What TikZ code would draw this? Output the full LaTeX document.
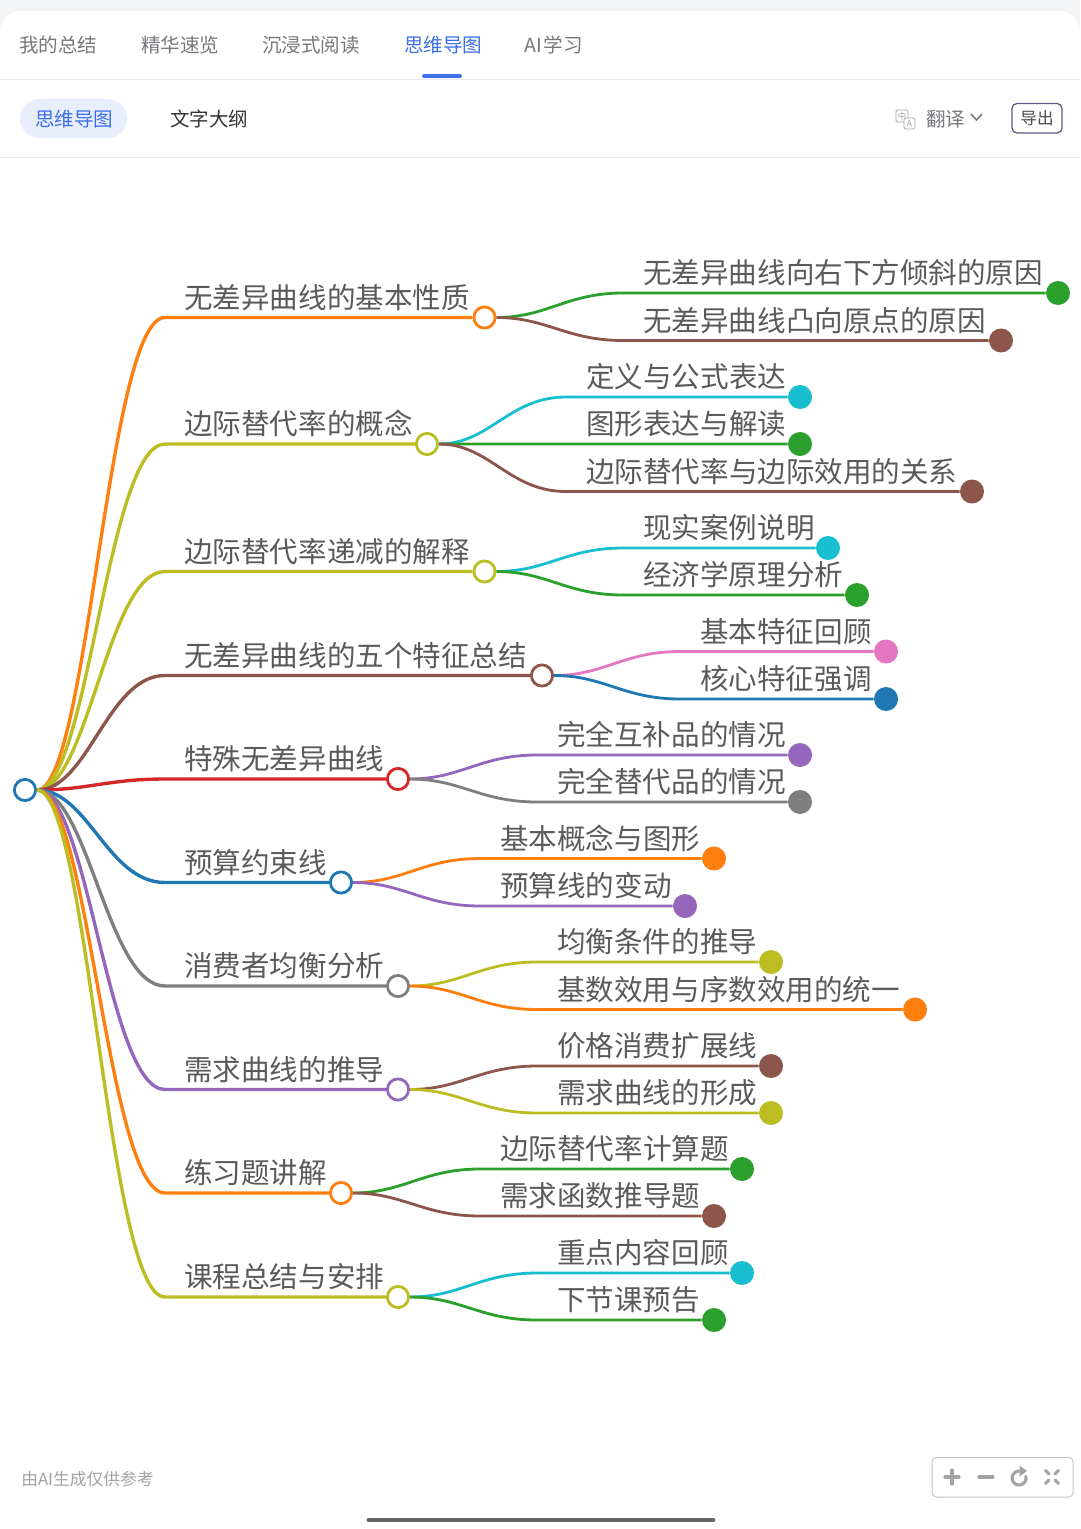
\documentclass[tikz,border=0pt]{standalone}
\usepackage{xcolor}
\usepackage{fontspec}
\setmainfont{Noto Sans CJK SC}
\usetikzlibrary{calc}

\definecolor{mmorange}{HTML}{FF7F0E}
\definecolor{mmolive}{HTML}{BCBD22}
\definecolor{mmbrown}{HTML}{8C564B}
\definecolor{mmred}{HTML}{D62728}
\definecolor{mmblue}{HTML}{1F77B4}
\definecolor{mmgray}{HTML}{7F7F7F}
\definecolor{mmpurple}{HTML}{9467BD}
\definecolor{mmgreen}{HTML}{2CA02C}
\definecolor{mmcyan}{HTML}{17BECF}
\definecolor{mmpink}{HTML}{E377C2}
\definecolor{uiblue}{HTML}{3D6FE8}
\definecolor{uipill}{HTML}{E8EEFC}
\definecolor{uigray}{HTML}{76787C}
\definecolor{uiline}{HTML}{E9E9EB}
\definecolor{uitop}{HTML}{F3F4F6}
\definecolor{uibox}{HTML}{5F5A80}
\definecolor{uitool}{HTML}{A3A3A6}
\definecolor{mmtext}{HTML}{5A5A5A}

\tikzset{
	hub/.style={circle,fill=white,line width=2pt,minimum size=0.53cm,inner sep=0},
	dotend/.style={circle,minimum size=0.6cm,inner sep=0},
	wirea/.style={line width=2.4pt},
	wireb/.style={line width=2pt},
	mmlabel/.style={anchor=base west,inner sep=0,yshift=0.5pt,text=mmtext,font=\fontsize{20.3}{24}\selectfont},
	tab/.style={anchor=west,inner sep=0,text=uigray,font=\fontsize{13.9}{16}\selectfont},
	toolstroke/.style={draw=uitool,line width=2.2pt,line cap=round}
}

% from, through a flat end, on to a node
\newcommand{\mmlink}[5]{\draw[#1,#2] (#3) .. controls ($(#3)!.4!(#3-|#4)$) and ($(#4)!.45!(#4-|#3)$) .. (#4) -- (#5);}

\begin{document}
\begin{tikzpicture}[x=0.025cm,y=-0.025cm]
	\useasboundingbox (0,0) rectangle (1080,1529);
	% page and top bars
	\fill[uitop] (0,0) rectangle (1080,40);
	\fill[white] (0,1529) -- (0,31) arc[start angle=180,end angle=270,radius=20] -- (1060,11) arc[start angle=270,end angle=360,radius=20] -- (1080,1529) -- cycle;
	\draw[uiline,line width=1pt] (0,79.5)--(1080,79.5);
	\draw[uiline,line width=1pt] (0,157.5)--(1080,157.5);
		\node[tab] (tabsum) at (19,45) {我的总结};
		\node[tab] (tabfast) at (141,45) {精华速览};
		\node[tab] (tabread) at (262,45) {沉浸式阅读};
		\node[tab,text=uiblue] (tabmap) at (404,45) {思维导图};
		\node[tab] (tabai) at (524,45) {AI\kern1.5pt 学习};
	\draw[uiblue,line width=2.6pt,line cap=round] (424,76)--(460,76);
	\fill[uipill,rounded corners=0.48cm] (20,99) rectangle (127,138);
		\node[tab,text=uiblue] (submap) at (35,119) {思维导图};
		\node[tab,text=black!80] (subtext) at (170,119) {文字大纲};
	% translate icon
	\draw[uitool,line width=0.6pt,rounded corners=1pt] (896,110) rectangle (908,122);
	\draw[uitool,line width=0.6pt,rounded corners=1pt,fill=white] (904,118) rectangle (915,129);
		\node[inner sep=0,text=uitool,font=\fontsize{6}{6}\selectfont] (icona) at (902,116) {中};
		\node[inner sep=0,text=uitool,font=\fontsize{6}{6}\selectfont] (iconb) at (909.5,123.5) {A};
		\node[tab] (trans) at (926,119) {翻译};
	\draw[uigray,line width=1.1pt] (971,114)--(976.5,120)--(982,114);
	\draw[uibox,line width=0.9pt,rounded corners=3.5pt] (1012,103.5) rectangle (1062,133);
		\node[inner sep=0,text=black!70,font=\fontsize{11.8}{14}\selectfont] (export) at (1037,118.5) {导出};

	% map
	\node[hub,draw=mmblue] (root) at (25,790) {};

	\node[hub,draw=mmorange] (b1) at (484.5,317.5) {};
	\coordinate (b1s) at (165,317.5);
		\node[mmlabel] (b1t) at (184,309) {无差异曲线的基本性质};
	\mmlink{wirea}{mmorange}{root.east}{b1s}{b1}
	\node[dotend,fill=mmgreen] (l1a) at (1058,293) {};
	\coordinate (l1as) at (623,293);
		\node[mmlabel] (l1at) at (643,284.5) {无差异曲线向右下方倾斜的原因};
	\mmlink{wireb}{mmgreen}{b1.east}{l1as}{l1a}
	\node[dotend,fill=mmbrown] (l1b) at (1001,340.5) {};
	\coordinate (l1bs) at (623,340.5);
		\node[mmlabel] (l1bt) at (643,332) {无差异曲线凸向原点的原因};
	\mmlink{wireb}{mmbrown}{b1.east}{l1bs}{l1b}

	\node[hub,draw=mmolive] (b2) at (427,444) {};
	\coordinate (b2s) at (165,444);
		\node[mmlabel] (b2t) at (184,435.5) {边际替代率的概念};
	\mmlink{wirea}{mmolive}{root.east}{b2s}{b2}
	\node[dotend,fill=mmcyan] (l2a) at (800,397) {};
	\coordinate (l2as) at (566,397);
		\node[mmlabel] (l2at) at (586,388.5) {定义与公式表达};
	\mmlink{wireb}{mmcyan}{b2.east}{l2as}{l2a}
	\node[dotend,fill=mmgreen] (l2b) at (800,444) {};
	\coordinate (l2bs) at (566,444);
		\node[mmlabel] (l2bt) at (586,435.5) {图形表达与解读};
	\mmlink{wireb}{mmgreen}{b2.east}{l2bs}{l2b}
	\node[dotend,fill=mmbrown] (l2c) at (972,491.5) {};
	\coordinate (l2cs) at (566,491.5);
		\node[mmlabel] (l2ct) at (586,483) {边际替代率与边际效用的关系};
	\mmlink{wireb}{mmbrown}{b2.east}{l2cs}{l2c}

	\node[hub,draw=mmolive] (b3) at (484.5,571.5) {};
	\coordinate (b3s) at (165,571.5);
		\node[mmlabel] (b3t) at (184,563) {边际替代率递减的解释};
	\mmlink{wirea}{mmolive}{root.east}{b3s}{b3}
	\node[dotend,fill=mmcyan] (l3a) at (828,548) {};
	\coordinate (l3as) at (623,548);
		\node[mmlabel] (l3at) at (643,539.5) {现实案例说明};
	\mmlink{wireb}{mmcyan}{b3.east}{l3as}{l3a}
	\node[dotend,fill=mmgreen] (l3b) at (857,595) {};
	\coordinate (l3bs) at (623,595);
		\node[mmlabel] (l3bt) at (643,586.5) {经济学原理分析};
	\mmlink{wireb}{mmgreen}{b3.east}{l3bs}{l3b}

	\node[hub,draw=mmbrown] (b4) at (542,675.5) {};
	\coordinate (b4s) at (165,675.5);
		\node[mmlabel] (b4t) at (184,667) {无差异曲线的五个特征总结};
	\mmlink{wirea}{mmbrown}{root.east}{b4s}{b4}
	\node[dotend,fill=mmpink] (l4a) at (886,651.5) {};
	\coordinate (l4as) at (680,651.5);
		\node[mmlabel] (l4at) at (700,643) {基本特征回顾};
	\mmlink{wireb}{mmpink}{b4.east}{l4as}{l4a}
	\node[dotend,fill=mmblue] (l4b) at (886,699) {};
	\coordinate (l4bs) at (680,699);
		\node[mmlabel] (l4bt) at (700,690.5) {核心特征强调};
	\mmlink{wireb}{mmblue}{b4.east}{l4bs}{l4b}

	\node[hub,draw=mmred] (b5) at (398,779) {};
	\coordinate (b5s) at (165,779);
		\node[mmlabel] (b5t) at (184,770.5) {特殊无差异曲线};
	\mmlink{wirea}{mmred}{root.east}{b5s}{b5}
	\node[dotend,fill=mmpurple] (l5a) at (800,755) {};
	\coordinate (l5as) at (537,755);
		\node[mmlabel] (l5at) at (557,746.5) {完全互补品的情况};
	\mmlink{wireb}{mmpurple}{b5.east}{l5as}{l5a}
	\node[dotend,fill=mmgray] (l5b) at (800,802) {};
	\coordinate (l5bs) at (537,802);
		\node[mmlabel] (l5bt) at (557,793.5) {完全替代品的情况};
	\mmlink{wireb}{mmgray}{b5.east}{l5bs}{l5b}

	\node[hub,draw=mmblue] (b6) at (341,882.5) {};
	\coordinate (b6s) at (165,882.5);
		\node[mmlabel] (b6t) at (184,874) {预算约束线};
	\mmlink{wirea}{mmblue}{root.east}{b6s}{b6}
	\node[dotend,fill=mmorange] (l6a) at (714,858.5) {};
	\coordinate (l6as) at (480,858.5);
		\node[mmlabel] (l6at) at (500,850) {基本概念与图形};
	\mmlink{wireb}{mmorange}{b6.east}{l6as}{l6a}
	\node[dotend,fill=mmpurple] (l6b) at (685,906) {};
	\coordinate (l6bs) at (480,906);
		\node[mmlabel] (l6bt) at (500,897.5) {预算线的变动};
	\mmlink{wireb}{mmpurple}{b6.east}{l6bs}{l6b}

	\node[hub,draw=mmgray] (b7) at (398,986) {};
	\coordinate (b7s) at (165,986);
		\node[mmlabel] (b7t) at (184,977.5) {消费者均衡分析};
	\mmlink{wirea}{mmgray}{root.east}{b7s}{b7}
	\node[dotend,fill=mmolive] (l7a) at (771,962) {};
	\coordinate (l7as) at (537,962);
		\node[mmlabel] (l7at) at (557,953.5) {均衡条件的推导};
	\mmlink{wireb}{mmolive}{b7.east}{l7as}{l7a}
	\node[dotend,fill=mmorange] (l7b) at (915,1009.5) {};
	\coordinate (l7bs) at (537,1009.5);
		\node[mmlabel] (l7bt) at (557,1001) {基数效用与序数效用的统一};
	\mmlink{wireb}{mmorange}{b7.east}{l7bs}{l7b}

	\node[hub,draw=mmpurple] (b8) at (398,1089.5) {};
	\coordinate (b8s) at (165,1089.5);
		\node[mmlabel] (b8t) at (184,1081) {需求曲线的推导};
	\mmlink{wirea}{mmpurple}{root.east}{b8s}{b8}
	\node[dotend,fill=mmbrown] (l8a) at (771,1066) {};
	\coordinate (l8as) at (537,1066);
		\node[mmlabel] (l8at) at (557,1057.5) {价格消费扩展线};
	\mmlink{wireb}{mmbrown}{b8.east}{l8as}{l8a}
	\node[dotend,fill=mmolive] (l8b) at (771,1113) {};
	\coordinate (l8bs) at (537,1113);
		\node[mmlabel] (l8bt) at (557,1104.5) {需求曲线的形成};
	\mmlink{wireb}{mmolive}{b8.east}{l8bs}{l8b}

	\node[hub,draw=mmorange] (b9) at (341,1193) {};
	\coordinate (b9s) at (165,1193);
		\node[mmlabel] (b9t) at (184,1184.5) {练习题讲解};
	\mmlink{wirea}{mmorange}{root.east}{b9s}{b9}
	\node[dotend,fill=mmgreen] (l9a) at (742,1169) {};
	\coordinate (l9as) at (480,1169);
		\node[mmlabel] (l9at) at (500,1160.5) {边际替代率计算题};
	\mmlink{wireb}{mmgreen}{b9.east}{l9as}{l9a}
	\node[dotend,fill=mmbrown] (l9b) at (714,1216) {};
	\coordinate (l9bs) at (480,1216);
		\node[mmlabel] (l9bt) at (500,1207.5) {需求函数推导题};
	\mmlink{wireb}{mmbrown}{b9.east}{l9bs}{l9b}

	\node[hub,draw=mmolive] (b10) at (398,1297) {};
	\coordinate (b10s) at (165,1297);
		\node[mmlabel] (b10t) at (184,1288.5) {课程总结与安排};
	\mmlink{wirea}{mmolive}{root.east}{b10s}{b10}
	\node[dotend,fill=mmcyan] (l10a) at (742,1273) {};
	\coordinate (l10as) at (537,1273);
		\node[mmlabel] (l10at) at (557,1264.5) {重点内容回顾};
	\mmlink{wireb}{mmcyan}{b10.east}{l10as}{l10a}
	\node[dotend,fill=mmgreen] (l10b) at (714,1320) {};
	\coordinate (l10bs) at (537,1320);
		\node[mmlabel] (l10bt) at (557,1311.5) {下节课预告};
	\mmlink{wireb}{mmgreen}{b10.east}{l10bs}{l10b}

	% bottom bar
	\node[tab,text=uitool,font=\fontsize{11.9}{14}\selectfont] (note) at (21,1479) {由AI生成仅供参考};
	\draw[uiline!85!black,line width=0.7pt,rounded corners=3pt] (932,1457.5) rectangle (1073,1497);
	\draw[toolstroke] (945,1477)--(959,1477);
	\draw[toolstroke] (952,1470)--(952,1484);
	\draw[toolstroke] (979,1477)--(993,1477);
	\draw[toolstroke] (1025.8,1476.2) arc[start angle=-15,delta angle=285,radius=7];
	\fill[uitool] (1019.5,1465.5)--(1027,1471)--(1019.5,1476.5)--cycle;
	\draw[toolstroke] (1045.5,1470.5)--(1049,1474);
	\draw[toolstroke] (1058.5,1470.5)--(1055,1474);
	\draw[toolstroke] (1045.5,1483.5)--(1049,1480);
	\draw[toolstroke] (1058.5,1483.5)--(1055,1480);
	\draw[black!60,line width=3.5pt,line cap=round] (369,1520)--(713,1520);
\end{tikzpicture}
\end{document}
